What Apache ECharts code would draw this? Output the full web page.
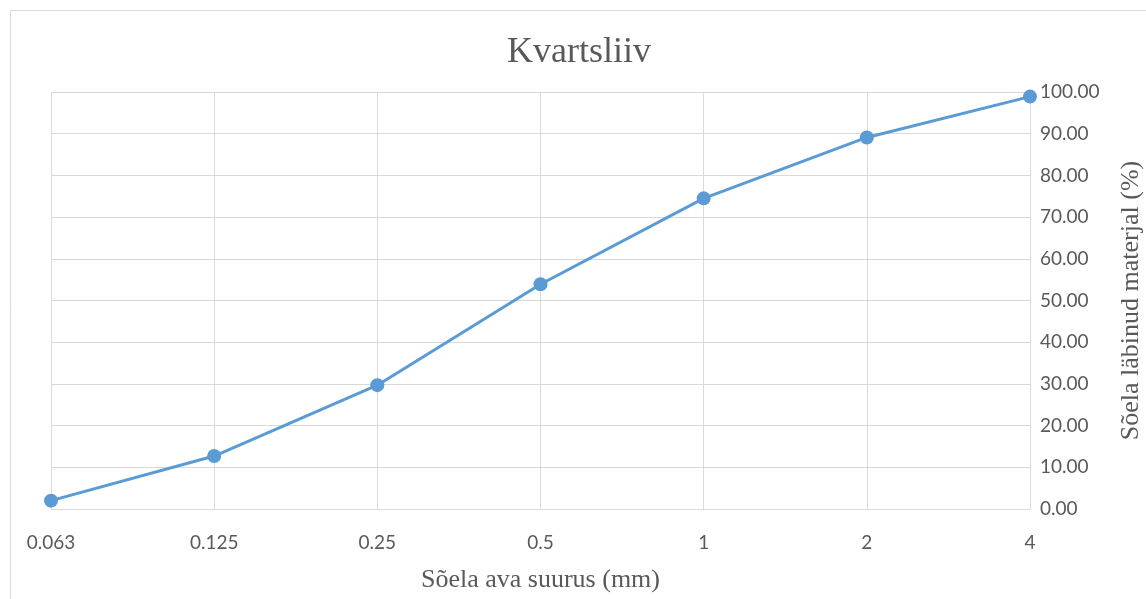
<!DOCTYPE html>
<html>
<head>
<meta charset="utf-8">
<script src="https://cdn.jsdelivr.net/npm/echarts@6/dist/echarts.min.js"></script>
<style>html,body{margin:0;padding:0;background:#fff}#c{width:1146px;height:599px}</style>
</head>
<body>
<div id="c"></div>
<script>
var categories = ['0.063', '0.125', '0.25', '0.5', '1', '2', '4'];
var passing = [2.0, 12.7, 29.7, 53.9, 74.5, 89.1, 98.9];
var titleText = 'Kvartsliiv';
var xName = 'Sõela ava suurus (mm)';
var yName = 'Sõela läbinud materjal (%)';

var chart = echarts.init(document.getElementById('c'), null, {renderer: 'canvas'});
chart.setOption({
  backgroundColor: '#ffffff',
  animation: false,
  graphic: [{
    type: 'rect', left: 8, top: 8,
    shape: {width: 1150, height: 600},
    style: {fill: 'none', stroke: '#d9d9d9', lineWidth: 1}
  }],
  title: {
    text: titleText, left: 502, top: 30,
    textStyle: {fontFamily: 'Liberation Serif', fontSize: 36, fontWeight: 'normal', color: '#595959'}
  },
  grid: {left: 51, right: 116, top: 92, bottom: 90, containLabel: false, outerBoundsMode: 'none'},
  xAxis: {
    type: 'category', data: categories, boundaryGap: false,
    name: xName, nameLocation: 'middle', nameGap: 58,
    nameTextStyle: {fontFamily: 'Liberation Serif', fontSize: 26, color: '#595959'},
    axisLine: {show: true, lineStyle: {color: '#d9d9d9', width: 1}},
    axisTick: {show: false},
    axisLabel: {interval: 0, margin: 24, fontFamily: 'Lato', fontSize: 19, color: '#595959'},
    splitLine: {show: true, lineStyle: {color: '#d9d9d9', width: 1}}
  },
  yAxis: {
    type: 'value', position: 'right', min: 0, max: 100, interval: 10,
    name: yName, nameLocation: 'middle', nameGap: 88, nameRotate: 90,
    nameTextStyle: {fontFamily: 'Liberation Serif', fontSize: 26, color: '#595959'},
    axisLine: {show: false}, axisTick: {show: false},
    axisLabel: {margin: 10, fontFamily: 'Lato', fontSize: 19, color: '#595959',
      formatter: function (v) { return v.toFixed(2); }},
    splitLine: {show: true, lineStyle: {color: '#d9d9d9', width: 1}}
  },
  series: [{
    type: 'line', data: passing,
    symbol: 'circle', symbolSize: 14,
    lineStyle: {color: '#5b9bd5', width: 3},
    itemStyle: {color: '#5b9bd5'}
  }]
});
</script>
</body>
</html>
